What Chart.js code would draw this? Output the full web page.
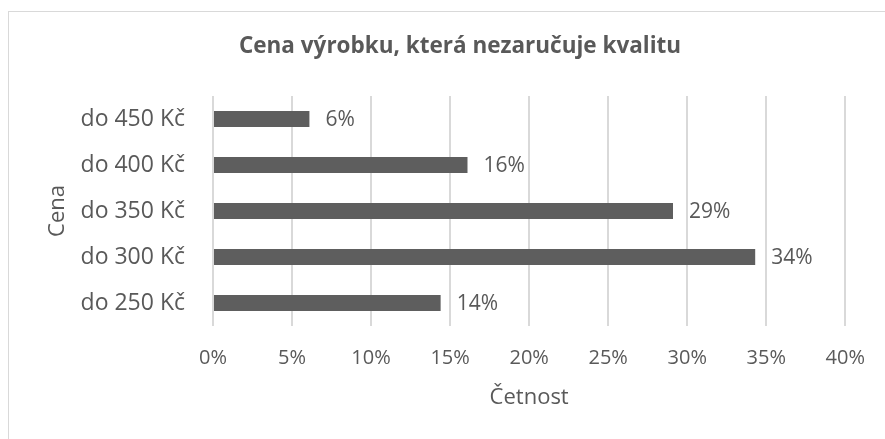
<!DOCTYPE html>
<html>
<head>
<meta charset="utf-8">
<script src="https://cdn.jsdelivr.net/npm/chart.js@4"></script>
<style>
  html, body { margin: 0; padding: 0; background: #fff; }
  #wrap { position: relative; width: 885px; height: 439px; }
  #frame { position: absolute; left: 8px; top: 11px; right: 0; bottom: 0; border-left: 1px solid #d9d9d9; border-top: 1px solid #d9d9d9; pointer-events: none; }
</style>
</head>
<body>
<div id="wrap">
  <canvas id="chart" width="885" height="439"></canvas>
  <div id="frame"></div>
</div>
<script>
// ============ DATA ============
const categories = ['do 250 Kč', 'do 300 Kč', 'do 350 Kč', 'do 400 Kč', 'do 450 Kč'];
const shares = [14.4, 34.3, 29.1, 16.1, 6.1];
const xTicks = [0, 5, 10, 15, 20, 25, 30, 35, 40];

const TXT = '#595959';
const FONT = 'Open Sans';

// popisky hodnot za koncem sloupce
const valueLabels = {
  id: 'valueLabels',
  afterDatasetsDraw(chart) {
    const c = chart.ctx;
    const meta = chart.getDatasetMeta(0);
    c.save();
    c.font = `21px "${FONT}"`;
    c.fillStyle = TXT;
    c.textAlign = 'left';
    c.textBaseline = 'middle';
    meta.data.forEach((bar, i) => {
      c.fillText(Math.round(shares[i]) + '%', bar.x + 16, bar.y + 1);
    });
    c.restore();
  }
};

const chart = new Chart(document.getElementById('chart'), {
  type: 'bar',
  data: {
    labels: categories,
    datasets: [{
      data: shares,
      backgroundColor: '#5e5e5e',
      borderWidth: 0,
      barPercentage: 0.35,
      categoryPercentage: 1
    }]
  },
  plugins: [valueLabels],
  options: {
    indexAxis: 'y',
    responsive: false,
    animation: false,
    // levý okraj posouvá střed nadpisu nad celý graf
    layout: { padding: { left: 74, right: 39, top: 0, bottom: 0 } },
    plugins: {
      legend: { display: false },
      tooltip: { enabled: false },
      title: {
        display: true,
        text: 'Cena výrobku, která nezaručuje kvalitu',
        color: TXT,
        font: { family: FONT, size: 22.5, weight: 'bold' },
        padding: { top: 33, bottom: 36 }
      }
    },
    scales: {
      x: {
        min: 0, max: 40,
        afterBuildTicks: s => { s.ticks = xTicks.map(v => ({ value: v })); },
        afterFit: s => { s.height = 113; },
        grid: { color: '#d9d9d9', lineWidth: 2, drawTicks: false },
        border: { display: false },
        ticks: { color: TXT, font: { family: FONT, size: 20 }, padding: 20, callback: v => v + '%' },
        title: { display: true, text: 'Četnost', color: TXT, font: { family: FONT, size: 22 }, padding: { top: 0, bottom: 28 } }
      },
      y: {
        reverse: true,
        afterFit: s => { s.width = 139; },
        grid: { display: false },
        border: { display: false },
        ticks: { color: TXT, font: { family: FONT, size: 23 }, padding: 20 },
        title: { display: true, text: 'Cena', color: TXT, font: { family: FONT, size: 22 }, padding: { top: -29, bottom: 0 } }
      }
    }
  }
});
</script>
</body>
</html>
